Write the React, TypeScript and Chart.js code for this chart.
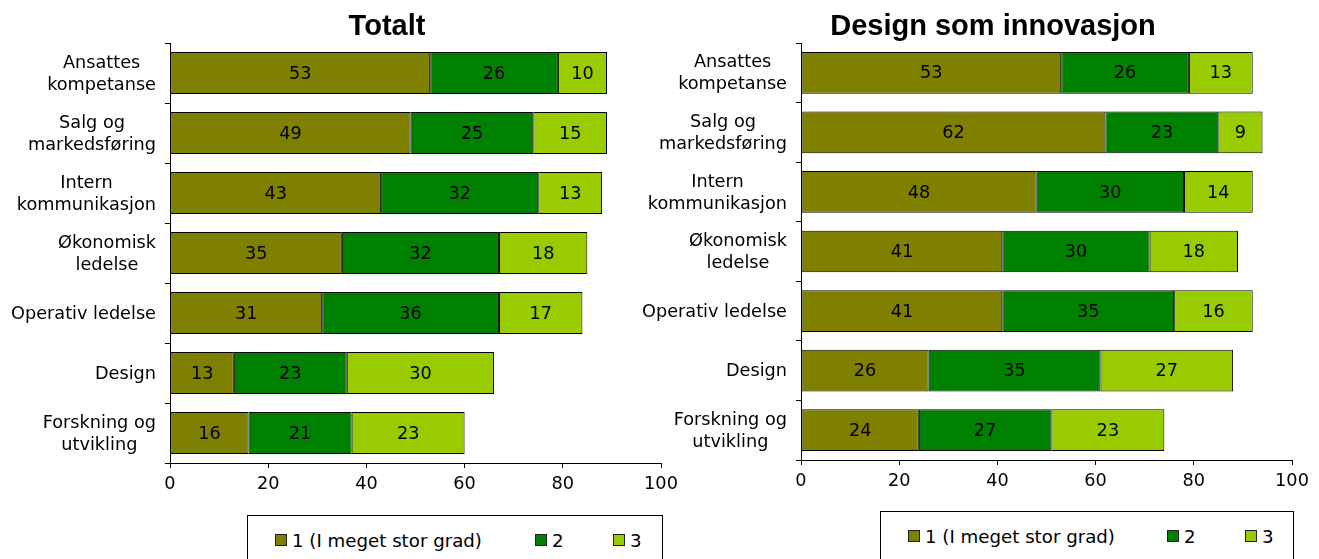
import React, { useEffect, useRef } from "react";
import { Chart, registerables } from "chart.js";

Chart.register(...registerables);

const categories: string[][] = [
  ["Ansattes", "kompetanse"],
  ["Salg og", "markedsføring"],
  ["Intern", "kommunikasjon"],
  ["Økonomisk", "ledelse"],
  ["Operativ ledelse"],
  ["Design"],
  ["Forskning og", "utvikling"],
];

const seriesNames = ["1 (I meget stor grad)", "2", "3"];
const seriesColors = ["#808000", "#008000", "#99CC00"];

const totaltS1 = [53, 49, 43, 35, 31, 13, 16];
const totaltS2 = [26, 25, 32, 32, 36, 23, 21];
const totaltS3 = [10, 15, 13, 18, 17, 30, 23];

const designS1 = [53, 62, 48, 41, 41, 26, 24];
const designS2 = [26, 23, 30, 30, 35, 35, 27];
const designS3 = [13, 9, 14, 18, 16, 27, 23];

const xTicks = [0, 20, 40, 60, 80, 100];

const FONT = "'DejaVu Sans', Verdana, sans-serif";
const FS = 17.7;
const LEGEND_FS = 18.2;

const labelPlugin = {
  id: "customLabels",
  afterDatasetsDraw(chart: any) {
    const ctx = chart.ctx;
    ctx.save();
    ctx.font = `${FS}px ${FONT}`;
    ctx.fillStyle = "#000";
    ctx.textAlign = "center";
    ctx.textBaseline = "middle";
    chart.data.datasets.forEach((ds: any, di: number) => {
      const meta = chart.getDatasetMeta(di);
      meta.data.forEach((el: any, i: number) => {
        const v = ds.data[i];
        const cx = (el.x + el.base) / 2;
        ctx.fillText(String(v), cx, el.y + 1);
      });
    });
    ctx.restore();
  },
  afterDraw(chart: any) {
    const ctx = chart.ctx;
    const ys = chart.scales.y;
    ctx.save();
    ctx.font = `${FS}px ${FONT}`;
    ctx.fillStyle = "#000";
    ctx.textAlign = "center";
    ctx.textBaseline = "middle";
    const right = ys.right - 14;
    const lh = 22;
    categories.forEach((lines, i) => {
      const y = ys.getPixelForValue(i);
      const maxW = Math.max(...lines.map((l) => ctx.measureText(l).width));
      const cx = right - maxW / 2;
      const y0 = y - ((lines.length - 1) * lh) / 2;
      lines.forEach((l, k) => ctx.fillText(l, cx, y0 + k * lh + 1));
    });
    ctx.restore();
  },
};

type Props = {
  s1: number[];
  s2: number[];
  s3: number[];
  left: number;
  width: number;
  height: number;
  yWidth: number;
  padRight: number;
  xHeight: number;
};

function BarChart({ s1, s2, s3, left, width, height, yWidth, padRight, xHeight }: Props) {
  const ref = useRef<HTMLCanvasElement | null>(null);
  useEffect(() => {
    if (!ref.current) return;
    const series = [s1, s2, s3];
    const chart = new Chart(ref.current, {
      type: "bar",
      data: {
        labels: categories.map((c) => c.join(" ")),
        datasets: series.map((d, i) => ({
          label: seriesNames[i],
          data: d,
          backgroundColor: seriesColors[i],
          borderColor: "#000",
          borderWidth: 1,
          borderSkipped: false,
          barPercentage: 0.7,
          categoryPercentage: 1,
        })),
      },
      options: {
        indexAxis: "y",
        responsive: false,
        animation: false,
        devicePixelRatio: 1,
        layout: { padding: { top: 43, right: padRight, left: 0, bottom: 0 } },
        plugins: {
          legend: { display: false },
          title: { display: false },
          tooltip: { enabled: false },
        },
        scales: {
          x: {
            stacked: true,
            min: 0,
            max: 100,
            afterBuildTicks: (s: any) => {
              s.ticks = xTicks.map((v) => ({ value: v }));
            },
            ticks: { color: "#000", font: { family: FONT, size: FS }, padding: 6, maxRotation: 0 },
            grid: { drawOnChartArea: false, drawTicks: true, tickLength: 5, color: "#000" },
            border: { display: true, color: "#000", width: 1 },
            afterFit: (s: any) => {
              s.height = xHeight;
            },
          },
          y: {
            stacked: true,
            ticks: { display: false },
            grid: { drawOnChartArea: false, drawTicks: true, tickLength: 5, color: "#000", offset: true },
            border: { display: true, color: "#000", width: 1 },
            afterFit: (s: any) => {
              s.width = yWidth;
            },
          },
        },
      } as any,
      plugins: [labelPlugin],
    });
    return () => chart.destroy();
  }, []);
  return (
    <canvas
      ref={ref}
      width={width}
      height={height}
      style={{ position: "absolute", left, top: 0, width, height, display: "block" }}
    />
  );
}

function Legend({ left, top, width, pos }: { left: number; top: number; width: number; pos: number[] }) {
  return (
    <div
      style={{
        position: "absolute",
        left,
        top,
        width,
        height: 60,
        border: "1px solid #000",
        boxSizing: "border-box",
        background: "#fff",
      }}
    >
      {seriesNames.map((n, i) => (
        <div
          key={n}
          style={{
            position: "absolute",
            left: pos[i],
            top: 13,
            height: 22,
            display: "flex",
            alignItems: "center",
            whiteSpace: "nowrap",
            fontFamily: FONT,
            fontSize: LEGEND_FS,
            color: "#000",
          }}
        >
          <span
            style={{
              display: "inline-block",
              width: 10,
              height: 10,
              background: seriesColors[i],
              border: "1px solid #222",
              marginRight: 5,
            }}
          />
          {n}
        </div>
      ))}
    </div>
  );
}

function Title({ text, cx }: { text: string; cx: number }) {
  return (
    <div
      style={{
        position: "absolute",
        left: cx - 250,
        width: 500,
        top: 9,
        textAlign: "center",
        fontFamily: "'Liberation Sans', Arial, sans-serif",
        fontWeight: "bold",
        fontSize: 29,
        lineHeight: "32px",
        color: "#000",
      }}
    >
      {text}
    </div>
  );
}

export default function App() {
  return (
    <div style={{ position: "absolute", left: 0, top: 0, width: 1319, height: 559, overflow: "hidden", background: "#fff" }}>
      <BarChart s1={totaltS1} s2={totaltS2} s3={totaltS3} left={0} width={700} height={505} yWidth={170} padRight={39} xHeight={42} />
      <BarChart s1={designS1} s2={designS2} s3={designS3} left={640} width={679} height={505} yWidth={161} padRight={27} xHeight={45} />
      <Title text="Totalt" cx={387} />
      <Title text="Design som innovasjon" cx={993} />
      <Legend left={247} top={515} width={416} pos={[27, 287, 365]} />
      <Legend left={880} top={511} width={414} pos={[27, 286, 364]} />
    </div>
  );
}
